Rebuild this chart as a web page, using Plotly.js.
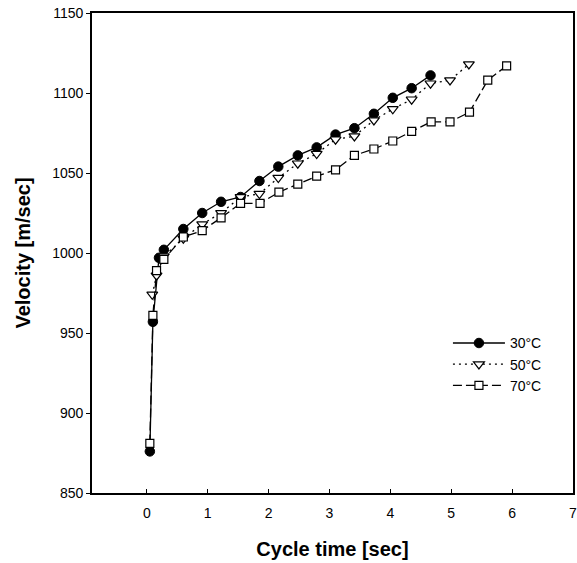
<!DOCTYPE html>
<html>
<head>
<meta charset="utf-8">
<script src="https://cdn.plot.ly/plotly-3.0.1.min.js"></script>
<style>html,body{margin:0;padding:0;background:#fff;}#chart{width:577px;height:563px;}</style>
</head>
<body>
<div id="chart"></div>
<script>
// Data
var x30 = [0.05, 0.10, 0.20, 0.28, 0.60, 0.91, 1.22, 1.54, 1.85, 2.16, 2.48, 2.79, 3.10, 3.41, 3.73, 4.04, 4.35, 4.66];
var y30 = [876, 957, 997, 1002, 1015, 1025, 1032, 1035, 1045, 1054, 1061, 1066, 1074, 1078, 1087, 1097, 1103, 1111];

var x50 = [0.09, 0.16, 0.28, 0.60, 0.91, 1.22, 1.54, 1.85, 2.16, 2.48, 2.79, 3.10, 3.41, 3.73, 4.04, 4.35, 4.66, 4.98, 5.29];
var y50 = [974, 986, 998, 1009, 1018, 1025, 1035, 1037, 1047, 1056, 1062, 1071, 1073, 1083, 1090, 1096, 1106, 1108, 1118];

var x70 = [0.05, 0.10, 0.16, 0.28, 0.60, 0.91, 1.22, 1.54, 1.86, 2.17, 2.48, 2.79, 3.10, 3.41, 3.73, 4.04, 4.35, 4.67, 4.98, 5.30, 5.60, 5.91];
var y70 = [881, 961, 989, 996, 1010, 1014, 1022, 1031, 1031, 1038, 1043, 1048, 1052, 1061, 1065, 1070, 1076, 1082, 1082, 1088, 1108, 1117];

var seriesNames = ['30\u00B0C', '50\u00B0C', '70\u00B0C'];
var xTicks = [0, 1, 2, 3, 4, 5, 6, 7];
var yTicks = [850, 900, 950, 1000, 1050, 1100, 1150];

var font = 'Liberation Sans, Arial, sans-serif';

var traces = [
  {x: x30, y: y30, name: seriesNames[0], mode: 'lines+markers', type: 'scatter',
   line: {color: '#000', width: 1.3, dash: 'solid'},
   marker: {symbol: 'circle', size: 9.5, color: '#000', line: {color: '#000', width: 1}}},
  {x: x50, y: y50, name: seriesNames[1], mode: 'lines+markers', type: 'scatter',
   line: {color: '#000', width: 1.3, dash: '2px,4px'},
   marker: {symbol: 'triangle-down', size: 9.5, color: '#fff', line: {color: '#000', width: 1.2}}},
  {x: x70, y: y70, name: seriesNames[2], mode: 'lines+markers', type: 'scatter',
   line: {color: '#000', width: 1.3, dash: '9px,4px'},
   marker: {symbol: 'square', size: 8, color: '#fff', line: {color: '#000', width: 1.2}}}
];

var layout = {
  width: 577, height: 563,
  margin: {l: 92, r: 4, t: 13, b: 70, pad: 0},
  paper_bgcolor: '#fff', plot_bgcolor: '#fff',
  font: {family: font, size: 14, color: '#000'},
  showlegend: true,
  legend: {x: 0.74, y: 0.345, xanchor: 'left', yanchor: 'top', bgcolor: 'rgba(0,0,0,0)',
           borderwidth: 0, itemwidth: 52, font: {family: font, size: 14, color: '#000'}, tracegroupgap: 0},
  xaxis: {
    range: [-0.9, 7], tickvals: xTicks, ticktext: xTicks.map(String),
    showgrid: false, zeroline: false, showline: true, linecolor: '#000', linewidth: 1.8, mirror: true,
    ticks: 'inside', ticklen: 4, tickcolor: '#000', tickwidth: 1,
    ticklabelstandoff: 6, ticklabeloverflow: 'allow',
    tickfont: {family: font, size: 14, color: '#000'},
    title: {text: '<b>Cycle time [sec]</b>', font: {family: font, size: 20, color: '#000'}, standoff: 22}
  },
  yaxis: {
    range: [850, 1150], tickvals: yTicks, ticktext: yTicks.map(String),
    showgrid: false, zeroline: false, showline: true, linecolor: '#000', linewidth: 1.8, mirror: true,
    ticks: 'outside', ticklen: 4, tickcolor: '#000', tickwidth: 1,
    tickfont: {family: font, size: 14, color: '#000'},
    title: {text: '<b>Velocity [m/sec]</b>', font: {family: font, size: 20, color: '#000'}, standoff: 16}
  }
};

Plotly.newPlot('chart', traces, layout, {displayModeBar: false, staticPlot: true});
</script>
</body>
</html>
